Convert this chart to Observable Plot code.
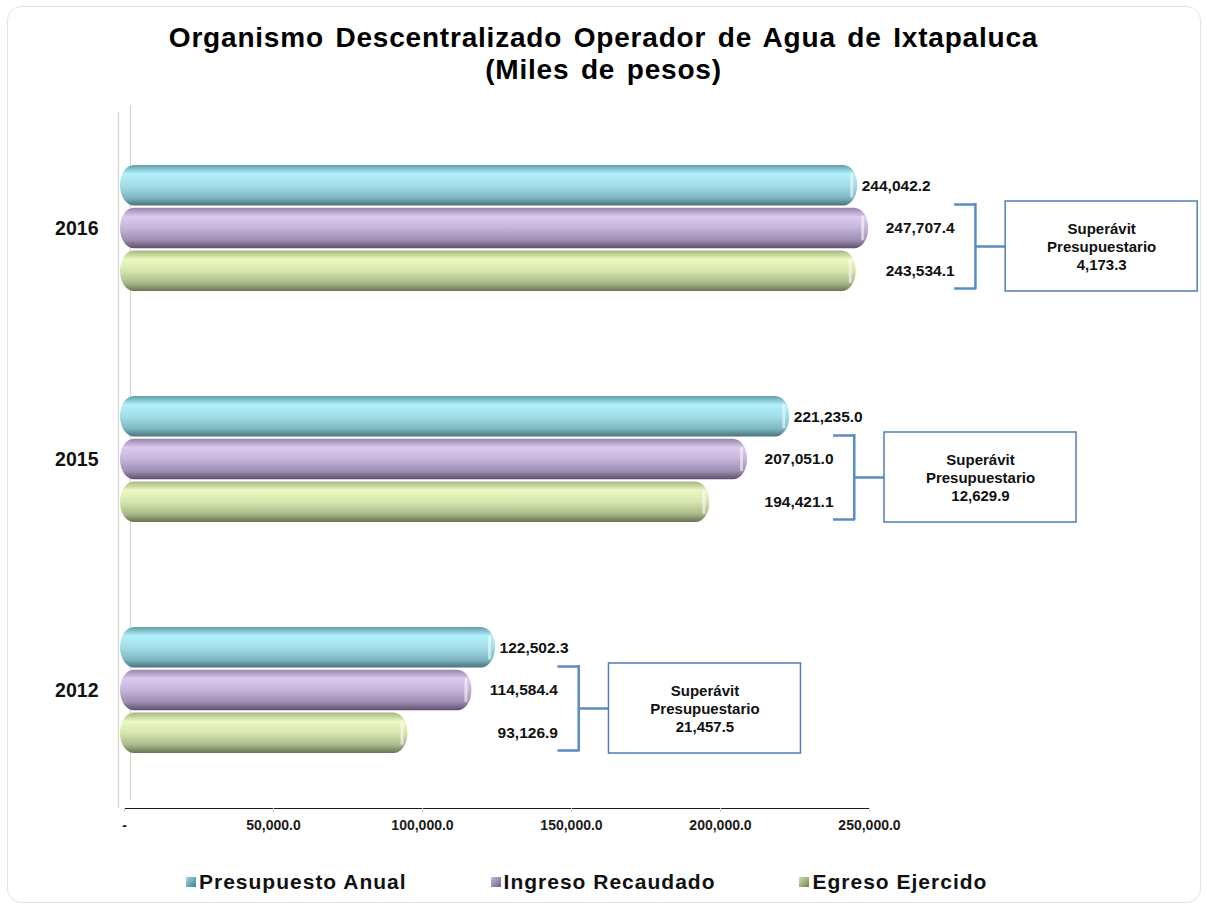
<!DOCTYPE html>
<html><head><meta charset="utf-8">
<script src="https://cdn.jsdelivr.net/npm/d3@7"></script>
<script src="https://cdn.jsdelivr.net/npm/@observablehq/plot@0.6"></script>
<style>
body{margin:0;background:#fff;font-family:"Liberation Sans",Arial,sans-serif;}
#wrap{position:relative;width:1207px;height:906px;overflow:hidden;background:#fff;}
#card{position:absolute;left:7px;top:6px;width:1192px;height:895px;border:1px solid #e4e4dc;border-radius:14px;}
#title{position:absolute;top:22px;left:0;width:1207px;text-align:center;font-weight:bold;font-size:28px;line-height:32px;letter-spacing:0.8px;word-spacing:3px;color:#000;}
#chart{position:absolute;left:0;top:0;}
#legend{position:absolute;top:870px;left:186px;display:flex;gap:84px;font-weight:bold;font-size:21px;line-height:24px;letter-spacing:1px;color:#111;}
#legend .item{display:flex;align-items:center;gap:3px;}
#legend .sw{width:10px;height:10px;display:inline-block;}
g[aria-label^="x-axis"] line, g[aria-label^="x-axis"] path{stroke:#cfcfc8;}
g[aria-label^="x-axis"] text{font-size:14px;fill:#1a1a1a;}
g[aria-label="vals"] text{letter-spacing:.8px;}
g[aria-label="years"] text{letter-spacing:1.5px;}
g[aria-label="boxtext"] text{letter-spacing:1px;}
</style></head>
<body>
<div id="wrap">
  <div id="card"></div>
  <div id="chart"></div>
  <div id="title">Organismo Descentralizado Operador de Agua de Ixtapaluca<br>(Miles de pesos)</div>
  <div id="legend"></div>
</div>
<script>
const years = ["2016", "2015", "2012"];
const seriesNames = ["Presupuesto Anual", "Ingreso Recaudado", "Egreso Ejercido"];
const presupuesto = [244042.2, 221235.0, 122502.3];
const ingreso = [247707.4, 207051.0, 114584.4];
const egreso = [243534.1, 194421.1, 93126.9];
const xTicks = [0, 50000, 100000, 150000, 200000, 250000];
const xTickLabels = ["-", "50,000.0", "100,000.0", "150,000.0", "200,000.0", "250,000.0"];
const boxTitle = "Superávit\nPresupuestario";

const fmt = d3.format(",.1f");
const rows = years.map((y, i) => ({year: y, presupuesto: presupuesto[i], ingreso: ingreso[i], egreso: egreso[i]}));
const keys = ["presupuesto", "ingreso", "egreso"];
const gradStops = [
  ["#5f9eab", "#b3f0fb", "#a2dde8", "#80b9c4", "#4b737c"],
  ["#9684ab", "#dccaf0", "#c6b4da", "#9e8eb2", "#5c4f6d"],
  ["#a6b67f", "#ebf8c2", "#d7e6ae", "#aab98a", "#6a7353"]
];
const swatchCols = [["#3f7f92", "#9fd8e4"], ["#6e5f86", "#cbb8e0"], ["#76814f", "#d5e3a6"]];

const W = 1207, H = 906, mT = 110, mB = 98, mL = 124, mR = 338;
const pIn = 0.446, pOut = 0.23;
const step = (H - mT - mB) / (years.length - pIn + 2 * pOut);
const bw = step * (1 - pIn);
const sub = bw / 3;
const bracket = "#5a8cc4";

const marks = [
  Plot.ruleX([0], {dx: -6, insetTop: 2, stroke: "#d6d6ce", strokeWidth: 1.2}),
  Plot.ruleX([0], {dx: 6, insetTop: -5, insetBottom: 8, stroke: "#d6d6ce", strokeWidth: 1.2})
];
keys.forEach((k, j) => {
  marks.push(Plot.barX(rows, {
    x: k, y: "year",
    insetTop: j * sub + 1, insetBottom: (2 - j) * sub + 1,
    insetLeft: -4, insetRight: -6,
    rx: 14, ry: 20,
    fill: `url(#grad${j})`
  }));
  // end-face highlight
  marks.push(Plot.barX(rows, {
    x1: k, x2: k, y: "year",
    insetTop: j * sub + 9, insetBottom: (2 - j) * sub + 9,
    insetLeft: -1, insetRight: -2,
    rx: 1.5, fill: "white", fillOpacity: 0.55
  }));
});
marks.push(
  Plot.text(rows, {x: "presupuesto", y: "year", dy: -sub, dx: 10, textAnchor: "start",
    text: d => fmt(d.presupuesto), fontSize: 15.5, fontWeight: "bold", fill: "#111", ariaLabel: "vals"}),
  Plot.text(rows, {x: "ingreso", y: "year", dx: 92, textAnchor: "end",
    text: d => fmt(d.ingreso), fontSize: 15.5, fontWeight: "bold", fill: "#111", ariaLabel: "vals"}),
  Plot.text(rows, {x: "ingreso", y: "year", dy: sub, dx: 92, textAnchor: "end",
    text: d => fmt(d.egreso), fontSize: 15.5, fontWeight: "bold", fill: "#111", ariaLabel: "vals"}),
  // bracket (vertical bar as thin rect)
  Plot.barX(rows, {x1: "ingreso", x2: "ingreso", y: "year", insetLeft: 112, insetRight: -114.5, insetTop: 39, insetBottom: 3, fill: bracket}),
  Plot.ruleY(rows, {y: "year", x1: "ingreso", x2: "ingreso", dy: -24, insetLeft: 92, insetRight: -114, stroke: bracket, strokeWidth: 2.5}),
  Plot.ruleY(rows, {y: "year", x1: "ingreso", x2: "ingreso", dy: 60, insetLeft: 92, insetRight: -114, stroke: bracket, strokeWidth: 2.5}),
  Plot.ruleY(rows, {y: "year", x1: "ingreso", x2: "ingreso", dy: 18, insetLeft: 113, insetRight: -143, stroke: bracket, strokeWidth: 2.5}),
  // box
  Plot.barX(rows, {x1: "ingreso", x2: "ingreso", y: "year", insetLeft: 143, insetRight: -335, insetTop: 37, insetBottom: 1,
    fill: "white", stroke: "#4f7fb8", strokeWidth: 1.5}),
  Plot.text(rows, {x: "ingreso", y: "year", dx: 239, dy: 18, lineHeight: 1.2,
    text: d => boxTitle + "\n" + fmt(d.ingreso - d.egreso), fontSize: 15, fontWeight: "bold", fill: "#111", ariaLabel: "boxtext"}),
  // year labels
  Plot.text(years, {y: d => d, frameAnchor: "left", dx: -26, textAnchor: "end", fontSize: 19.5, fontWeight: "bold", fill: "#111", ariaLabel: "years"})
);

const svg = Plot.plot({
  width: W, height: H,
  marginTop: mT, marginBottom: mB, marginLeft: mL, marginRight: mR,
  style: {fontFamily: "'Liberation Sans', Arial, sans-serif", fontWeight: "bold", fontSize: "14px", color: "#1a1a1a", background: "transparent", overflow: "visible"},
  x: {domain: [0, 250000], ticks: xTicks, tickFormat: d => xTickLabels[xTicks.indexOf(d)], tickSize: 4, tickPadding: 8, line: true, label: null},
  y: {domain: years, paddingInner: pIn, paddingOuter: pOut, axis: null, label: null},
  marks
});

const defs = d3.select(svg).insert("defs", ":first-child");
gradStops.forEach((stops, j) => {
  const g = defs.append("linearGradient").attr("id", `grad${j}`).attr("x1", 0).attr("y1", 0).attr("x2", 0).attr("y2", 1);
  const offs = [0, 0.22, 0.5, 0.8, 1];
  stops.forEach((c, i) => g.append("stop").attr("offset", offs[i]).attr("stop-color", c));
});
document.getElementById("chart").appendChild(svg);

const legend = d3.select("#legend");
seriesNames.forEach((name, j) => {
  const it = legend.append("div").attr("class", "item");
  it.append("span").attr("class", "sw").style("background", `linear-gradient(135deg, ${swatchCols[j][1]} 0%, ${swatchCols[j][0]} 100%)`);
  it.append("span").text(name);
});
</script>
</body></html>
